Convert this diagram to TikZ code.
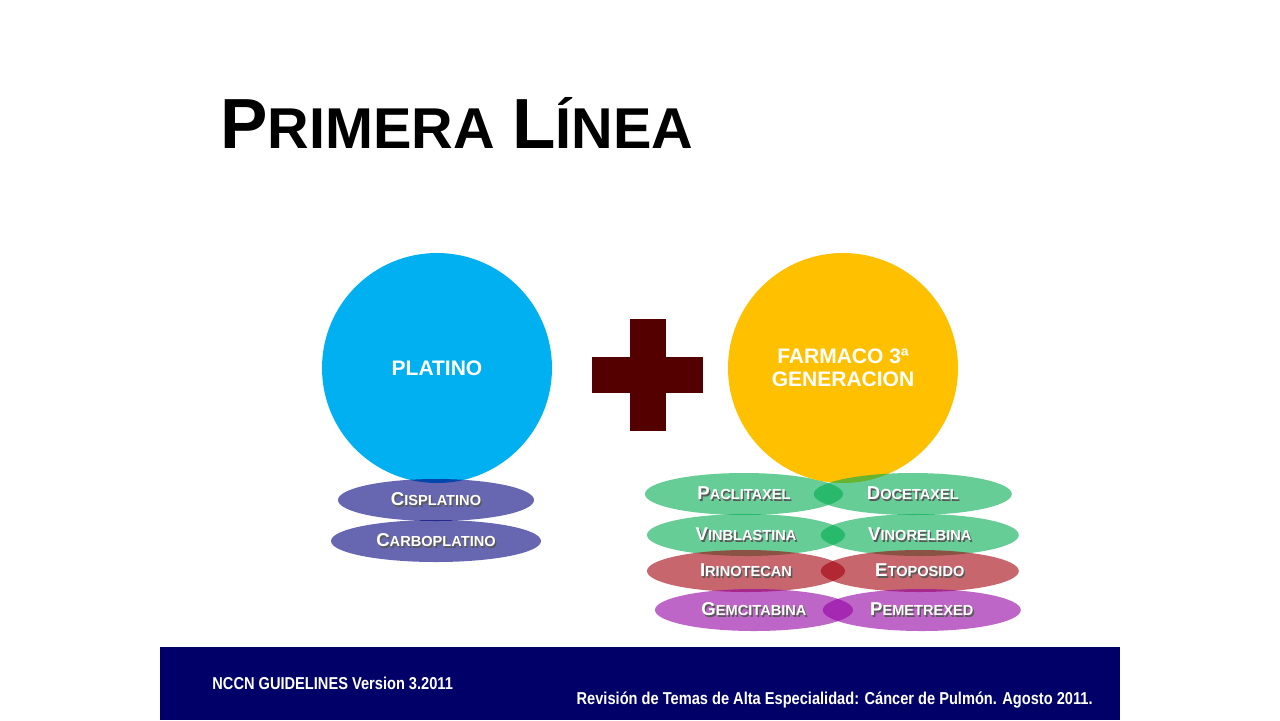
\documentclass[tikz,border=0pt]{standalone}
\usepackage{fontspec}
\setmainfont{Liberation Sans}
\newfontfamily\titlefont{Liberation Sans}
\newfontfamily\footfont[FakeStretch=0.85]{Liberation Sans}
\usepackage{xcolor}
\usetikzlibrary{positioning}
\usetikzlibrary{shapes.geometric}

\definecolor{PlatBlue}{RGB}{0,176,240}
\definecolor{GenOrange}{RGB}{255,192,0}
\definecolor{PlusRed}{RGB}{85,0,0}
\definecolor{FootNavy}{RGB}{0,0,104}
\definecolor{SaltBlue}{RGB}{0,0,125}
\definecolor{DrugGreen}{RGB}{0,172,80}
\definecolor{DrugRed}{RGB}{163,0,13}
\definecolor{DrugPurple}{RGB}{147,0,163}

% fake small caps with a drop shadow
\newcommand\drugname[2]{\leavevmode\rlap{\kern0.7pt\raisebox{-0.7pt}{\textcolor{black!65}{{\fontsize{9.3}{10}\selectfont #1}{\fontsize{7.3}{8}\selectfont #2}}}}{\fontsize{9.3}{10}\selectfont #1}{\fontsize{7.3}{8}\selectfont #2}}

\begin{document}
\begin{tikzpicture}[x=0.5pt,y=-0.5pt,
  bigcircle/.style={circle,fill=#1,minimum size=115pt,inner sep=0pt,
                    text=white,font=\bfseries\fontsize{10.5}{11.5}\selectfont,align=center},
  drug/.style 2 args={ellipse,fill=#1,fill opacity=0.6,text opacity=1,
                      minimum width=#2,minimum height=21pt,inner sep=0pt,
                      text=white,font=\bfseries}]
\fill[white] (0,0) rectangle (1280,720);
\useasboundingbox (0,0) rectangle (1280,720);

% title
\node[anchor=base west,inner sep=0pt,font=\titlefont\bfseries]
     (title) at (220,148) {{\fontsize{35.5}{40}\selectfont P}{\fontsize{28.8}{32}\selectfont RIMERA\hspace{0.3em}}{\fontsize{35.5}{40}\selectfont L}{\fontsize{28.8}{32}\selectfont ÍNEA}};

% platino
\node[bigcircle=PlatBlue] (platino) at (437,368) {PLATINO};
\node[drug={SaltBlue}{98pt}] (cis) at (436,500) {\drugname{C}{ISPLATINO}};
\node[drug={SaltBlue}{105pt}] (carbo) at (436,541) {\drugname{C}{ARBOPLATINO}};

% plus
\fill[PlusRed] (630,319) rectangle (666,431);
\fill[PlusRed] (592,357) rectangle (703,393);

% farmaco de tercera generacion
\node[drug={DrugGreen}{99pt}] (pac) at (744,494) {\drugname{P}{ACLITAXEL}};
\node[bigcircle=GenOrange] (farmaco) at (843,368) {FARMACO 3ª\\GENERACION};
\node[drug={DrugGreen}{99pt},right=-15pt of pac] (doc) {\drugname{D}{OCETAXEL}};
\node[drug={DrugGreen}{99pt}] (vinb) at (746,535) {\drugname{V}{INBLASTINA}};
\node[drug={DrugGreen}{99pt},right=-12.5pt of vinb] (vinor) {\drugname{V}{INORELBINA}};
\node[drug={DrugRed}{99pt}] (irino) at (746,571) {\drugname{I}{RINOTECAN}};
\node[drug={DrugRed}{99pt},right=-12.5pt of irino] (etop) {\drugname{E}{TOPOSIDO}};
\node[drug={DrugPurple}{99pt}] (gem) at (754,610) {\drugname{G}{EMCITABINA}};
\node[drug={DrugPurple}{99pt},right=-15.5pt of gem] (peme) {\drugname{P}{EMETREXED}};

% footer
\fill[FootNavy] (160,647) rectangle (1120,720);
\node[anchor=base west,inner sep=0pt,text=white,font=\footfont\bfseries\fontsize{8.6}{10}\selectfont]
     (nccn) at (212,689) {NCCN GUIDELINES Version 3.2011};
\node[anchor=base east,inner sep=0pt,text=white,font=\footfont\bfseries\fontsize{8.6}{10}\selectfont]
     (revision) at (1093,704) {Revisión de Temas de Alta Especialidad: Cáncer de Pulmón. Agosto 2011.};
\end{tikzpicture}
\end{document}
